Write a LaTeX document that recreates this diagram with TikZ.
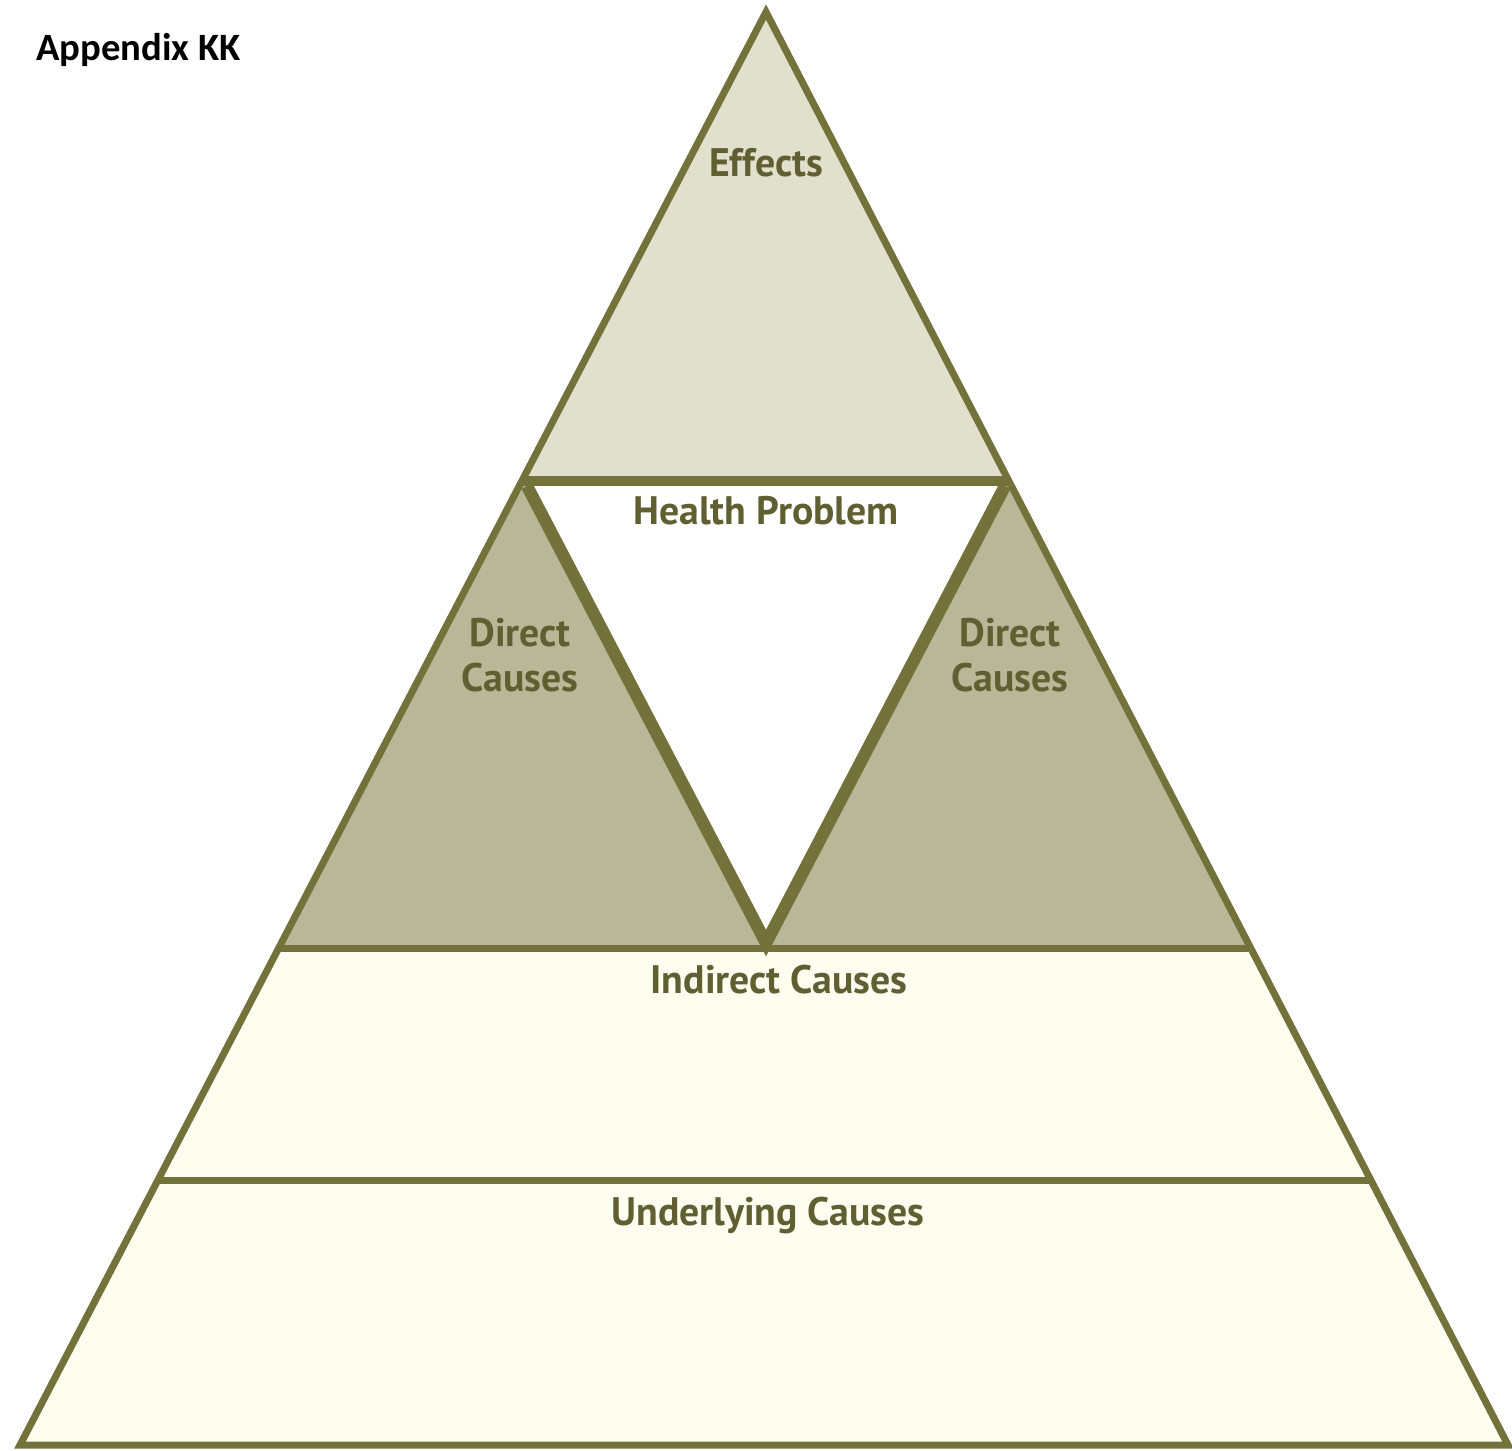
\documentclass[tikz,border=0pt]{standalone}
\usepackage{fontspec}
\usepackage{tikz}
\usetikzlibrary{positioning}
\newfontfamily\pyrfont{PT Sans}
\newfontfamily\headfont{Carlito}
\definecolor{olive}{HTML}{72723A}
\definecolor{olivetext}{HTML}{5F5F32}
\definecolor{toptint}{HTML}{E1E0CC}
\definecolor{midtint}{HTML}{B8B898}
\definecolor{lowtint}{HTML}{FDFDF0}

\tikzset{
    layer/.style={font=\pyrfont\bfseries\fontsize{11.3}{12.8}\selectfont, text=olivetext, align=center},
    edgeline/.style={draw=olive, line width=2pt, line join=miter},
    thickline/.style={draw=olive, line width=3.5pt, line join=miter}
}

\begin{document}
\begin{tikzpicture}[x=0.01cm, y=-0.01cm]
    \useasboundingbox (0,0) rectangle (1512,1450);
    % corners of the pyramid
    \coordinate (apex) at (766,12);
    \coordinate (bl) at (20,1445);
    \coordinate (br) at (1508,1445);
    % health problem band and the inverted triangle
    \coordinate (hl) at (523,481);
    \coordinate (hr) at (1007,481);
    \coordinate (tl) at (527,486);
    \coordinate (tr) at (1005,486);
    \coordinate (tb) at (766,943);
    % cross lines
    \coordinate (il) at (281,948);
    \coordinate (ir) at (1251,948);
    \coordinate (ul) at (160,1180);
    \coordinate (ur) at (1371,1180);

    % fills
    \fill[lowtint] (apex) -- (bl) -- (br) -- cycle;
    \fill[midtint] (hl) -- (hr) -- (ir) -- (il) -- cycle;
    \fill[toptint] (apex) -- (hr) -- (hl) -- cycle;
    \fill[white] (tl) -- (tr) -- (tb) -- cycle;

    % lines
    \draw[thickline] (tl) -- (tb) -- (tr);
    \draw[draw=olive, line width=2.9pt] (hl) -- (hr);
    \draw[edgeline] (il) -- (ir);
    \draw[edgeline] (ul) -- (ur);
    \draw[edgeline] (apex) -- (bl) -- (br) -- cycle;

    % labels
    \node[layer] (effects) at (766,163) {Effects};
    \node[layer] (health) at (766,511) {Health Problem};
    \node[layer] (dcleft) at (520,655) {Direct\\Causes};
    \node[layer] (dcright) at (1010,655) {Direct\\Causes};
    \node[layer] (indirect) at (779,980) {Indirect Causes};
    \node[layer] (under) at (768,1215) {Underlying Causes};
    \node[font=\headfont\bfseries\fontsize{11}{13}\selectfont, anchor=west] (title) at (24,50) {Appendix KK};
\end{tikzpicture}
\end{document}
